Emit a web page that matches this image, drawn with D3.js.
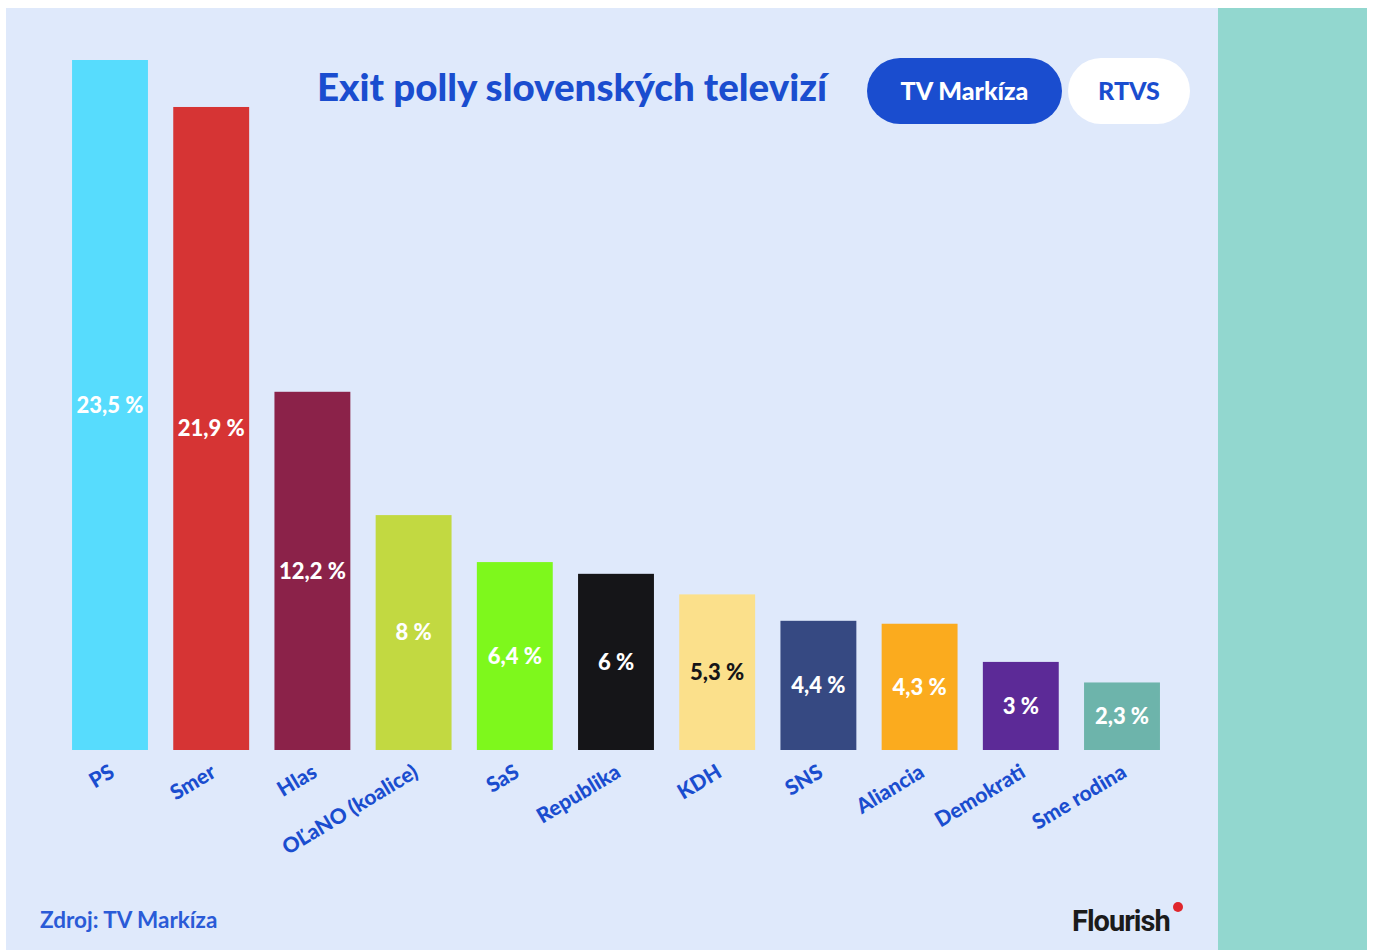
<!DOCTYPE html>
<html>
<head>
<meta charset="utf-8">
<script src="https://cdn.jsdelivr.net/npm/d3@7"></script>
<style>
  html, body { margin: 0; padding: 0; background: #ffffff; }
  svg { display: block; }
</style>
</head>
<body>
<div id="chart"></div>
<script>
// Exit poll data (TV Markíza)
const parties = ["PS", "Smer", "Hlas", "OĽaNO (koalice)", "SaS", "Republika", "KDH", "SNS", "Aliancia", "Demokrati", "Sme rodina"];
const values = [23.5, 21.9, 12.2, 8, 6.4, 6, 5.3, 4.4, 4.3, 3, 2.3];
const colors = ["#57dcfd", "#d63434", "#8b2249", "#c2d941", "#7ef81c", "#151518", "#fbe08b", "#364982", "#fbab1e", "#5c2a97", "#6db4ab"];
const sources = ["TV Markíza", "RTVS"];

const width = 1373, height = 950;
const blue = "#1a4dcf";

const svg = d3.select("#chart").append("svg")
    .attr("width", width)
    .attr("height", height);

// Panels
svg.append("rect").attr("x", 6).attr("y", 8).attr("width", 1212).attr("height", 942).attr("fill", "#dfe9fb");
svg.append("rect").attr("x", 1218).attr("y", 8).attr("width", 149).attr("height", 942).attr("fill", "#92d7cf");

const x = d3.scaleBand()
    .domain(parties)
    .range([59.4, 1172.6])
    .paddingInner(0.25)
    .paddingOuter(0.125);

const y = d3.scaleLinear()
    .domain([0, 23.5])
    .range([750, 60]);

const data = parties.map((p, i) => ({party: p, value: values[i], color: colors[i]}));

// Bars
svg.append("g").selectAll("rect")
    .data(data)
    .join("rect")
    .attr("x", d => x(d.party))
    .attr("y", d => y(d.value))
    .attr("width", x.bandwidth())
    .attr("height", d => y(0) - y(d.value))
    .attr("fill", d => d.color);

// Value labels in the middle of each bar
const fmt = v => String(v).replace(".", ",") + " %";
svg.append("g").selectAll("text")
    .data(data)
    .join("text")
    .attr("x", d => x(d.party) + x.bandwidth() / 2)
    .attr("y", d => (y(d.value) + y(0)) / 2)
    .attr("dy", "0.35em")
    .attr("text-anchor", "middle")
    .attr("font-family", "Lato, sans-serif")
    .attr("font-weight", 900)
    .attr("font-size", 22)
    .attr("fill", d => d3.hsl(d.color).l > 0.7 ? "#151518" : "#ffffff")
    .text(d => fmt(d.value));

// Rotated category labels
svg.append("g").selectAll("text")
    .data(data)
    .join("text")
    .attr("transform", d => `translate(${x(d.party) + x.bandwidth() / 2 + 6},${776}) rotate(-31)`)
    .attr("text-anchor", "end")
    .attr("font-family", "Lato, sans-serif")
    .attr("font-weight", 900)
    .attr("font-size", 21)
    .attr("fill", blue)
    .text(d => d.party);

// Title
svg.append("text")
    .attr("x", 572)
    .attr("y", 101)
    .attr("text-anchor", "middle")
    .attr("font-family", "Lato, sans-serif")
    .attr("font-weight", 900)
    .attr("font-size", 38.5)
    .attr("fill", blue)
    .text("Exit polly slovenských televizí");

// Source toggle buttons
const buttons = [{x: 867, w: 195}, {x: 1068, w: 122}];
const btn = svg.append("g").selectAll("g")
    .data(sources)
    .join("g");
btn.append("rect")
    .attr("x", (d, i) => buttons[i].x)
    .attr("y", 58)
    .attr("width", (d, i) => buttons[i].w)
    .attr("height", 66)
    .attr("rx", 33)
    .attr("fill", (d, i) => i === 0 ? blue : "#ffffff");
btn.append("text")
    .attr("x", (d, i) => buttons[i].x + buttons[i].w / 2)
    .attr("y", 91)
    .attr("dy", "0.35em")
    .attr("text-anchor", "middle")
    .attr("font-family", "Lato, sans-serif")
    .attr("font-weight", 900)
    .attr("font-size", 25)
    .attr("fill", (d, i) => i === 0 ? "#ffffff" : blue)
    .text(d => d);

// Footer
svg.append("text")
    .attr("x", 40)
    .attr("y", 928)
    .attr("font-family", "Lato, sans-serif")
    .attr("font-weight", 700)
    .attr("font-size", 22.5)
    .attr("fill", "#2a5bd7")
    .text("Zdroj: TV Markíza");

svg.append("text")
    .attr("x", 1072)
    .attr("y", 931)
    .attr("font-family", "Roboto, sans-serif")
    .attr("font-weight", 700)
    .attr("font-size", 29)
    .attr("letter-spacing", -1)
    .attr("fill", "#1b1b1b")
    .text("Flourish");
svg.append("circle")
    .attr("cx", 1178)
    .attr("cy", 907)
    .attr("r", 5)
    .attr("fill", "#e0262c");
</script>
</body>
</html>
